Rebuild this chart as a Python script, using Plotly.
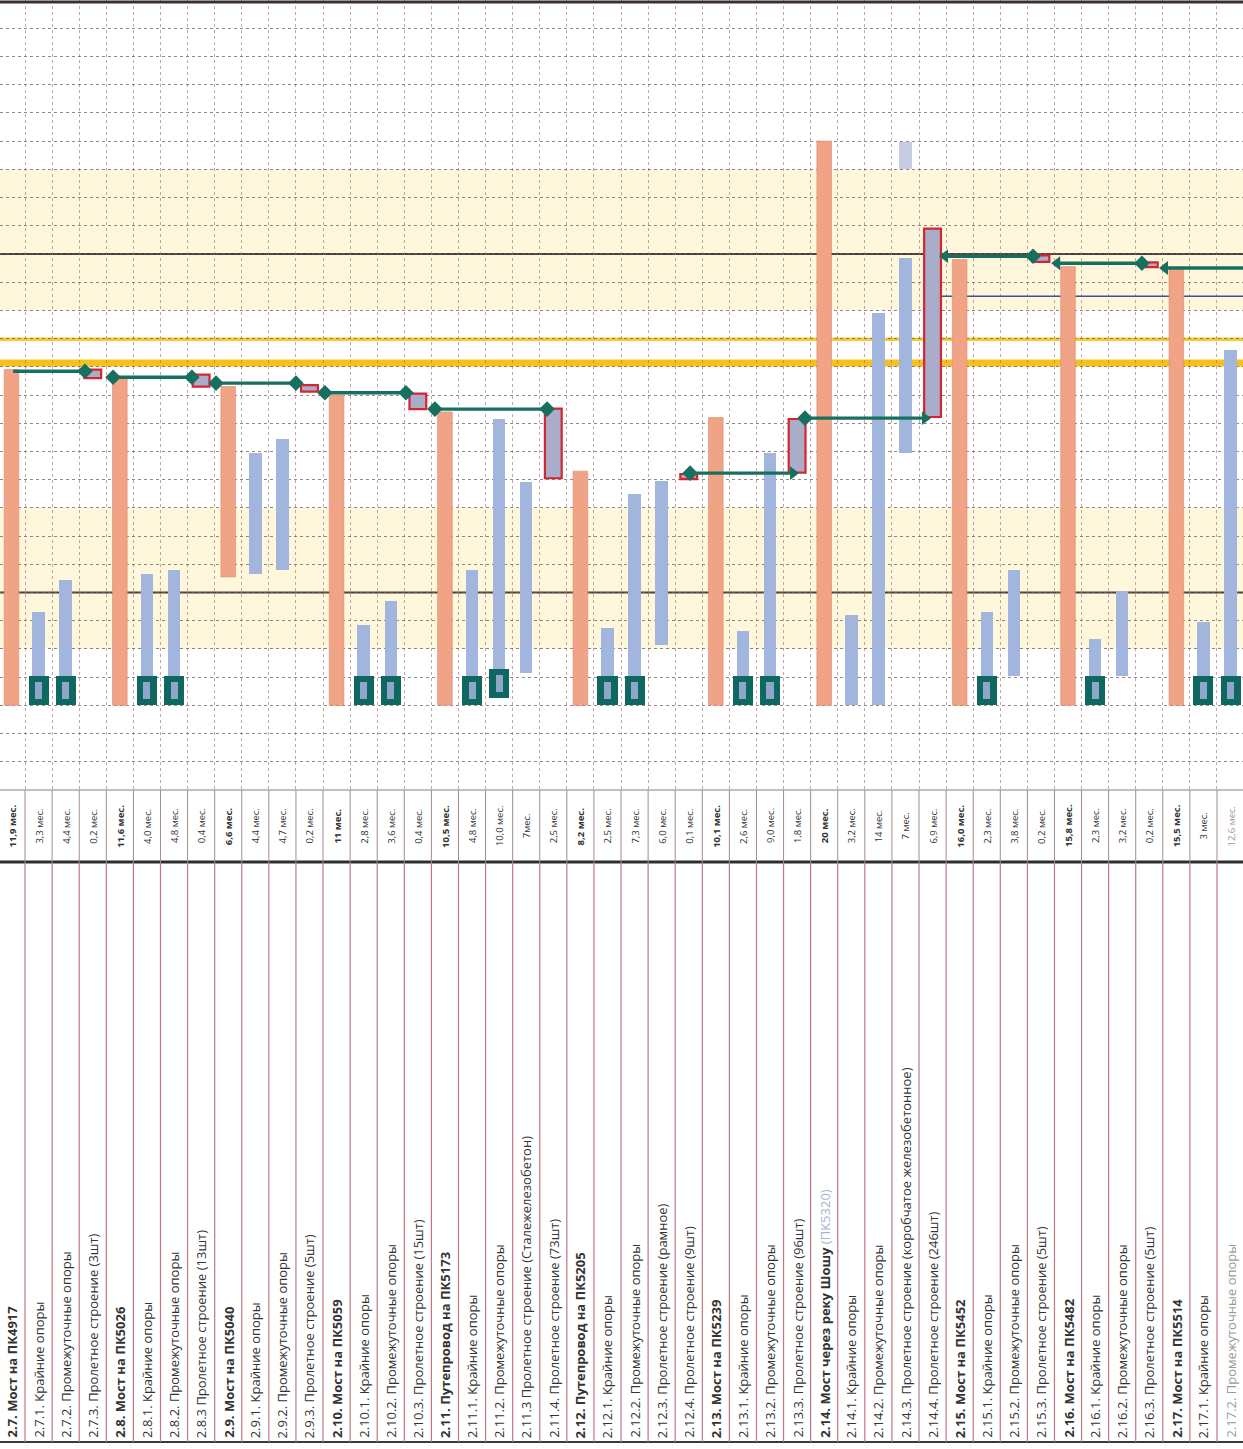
import plotly.graph_objects as go

W, H = 1243, 1449

# ---------------- data ----------------
task_labels = [
    "2.7. Мост на ПК4917",
    "2.7.1. Крайние опоры",
    "2.7.2. Промежуточные опоры",
    "2.7.3. Пролетное строение (3шт)",
    "2.8. Мост на ПК5026",
    "2.8.1. Крайние опоры",
    "2.8.2. Промежуточные опоры",
    "2.8.3 Пролетное строение (13шт)",
    "2.9. Мост на ПК5040",
    "2.9.1. Крайние опоры",
    "2.9.2. Промежуточные опоры",
    "2.9.3. Пролетное строение (5шт)",
    "2.10. Мост на ПК5059",
    "2.10.1. Крайние опоры",
    "2.10.2. Промежуточные опоры",
    "2.10.3. Пролетное строение (15шт)",
    "2.11. Путепровод на ПК5173",
    "2.11.1. Крайние опоры",
    "2.11.2. Промежуточные опоры",
    "2.11.3 Пролетное строение (Сталежелезобетон)",
    "2.11.4. Пролетное строение (73шт)",
    "2.12. Путепровод на ПК5205",
    "2.12.1. Крайние опоры",
    "2.12.2. Промежуточные опоры",
    "2.12.3. Пролетное строение (рамное)",
    "2.12.4. Пролетное строение (9шт)",
    "2.13. Мост на ПК5239",
    "2.13.1. Крайние опоры",
    "2.13.2. Промежуточные опоры",
    "2.13.3. Пролетное строение (96шт)",
    "2.14. Мост через реку Шошу",
    "2.14.1. Крайние опоры",
    "2.14.2. Промежуточные опоры",
    "2.14.3. Пролетное строение (коробчатое железобетонное)",
    "2.14.4. Пролетное строение (246шт)",
    "2.15. Мост на ПК5452",
    "2.15.1. Крайние опоры",
    "2.15.2. Промежуточные опоры",
    "2.15.3. Пролетное строение (5шт)",
    "2.16. Мост на ПК5482",
    "2.16.1. Крайние опоры",
    "2.16.2. Промежуточные опоры",
    "2.16.3. Пролетное строение (5шт)",
    "2.17. Мост на ПК5514",
    "2.17.1. Крайние опоры",
    "2.17.2. Промежуточные опоры",
]
label_notes = {30: "(ПК5320)"}

durations = [
    "11,9 мес.", "3,3 мес.", "4,4 мес.", "0,2 мес.", "11,6 мес.", "4,0 мес.",
    "4,8 мес.", "0,4 мес.", "6,6 мес.", "4,4 мес.", "4,7 мес.", "0,2 мес.",
    "11 мес.", "2,8 мес.", "3,6 мес.", "0,4 мес.", "10,5 мес.", "4,8 мес.",
    "10,0 мес.", "7мес.", "2,5 мес.", "8,2 мес.", "2,5 мес.", "7,3 мес.",
    "6,0 мес.", "0,1 мес.", "10,1 мес.", "2,6 мес.", "9,0 мес.", "1,8 мес.",
    "20 мес.", "3,2 мес.", "14 мес.", "7 мес.", "6,9 мес.", "16,0 мес.",
    "2,3 мес.", "3,8 мес.", "0,2 мес.", "15,8 мес.", "2,3 мес.", "3,2 мес.",
    "0,2 мес.", "15,5 мес.", "3 мес.", "12,6 мес.",
]

# summary (structure) bars: column index, start month, end month
summary_idx = [0, 4, 8, 12, 16, 21, 26, 30, 35, 39, 43]
summary_start = [0, 0, 4.55, 0, 0, 0, 0, 0, 0, 0, 0]
summary_end = [11.9, 11.6, 11.3, 11.0, 10.4, 8.3, 10.2, 20.0, 15.8, 15.55, 15.45]

# work bars (supports etc.)
work_idx = [1, 2, 5, 6, 9, 10, 13, 14, 17, 18, 19, 22, 23, 24, 27, 28,
            31, 32, 33, 33, 36, 37, 40, 41, 44, 45]
work_start = [0, 0, 0, 0, 4.65, 4.8, 0, 0, 0, 0.25, 1.15, 0, 0, 2.15, 0, 0,
              0, 0, 8.95, 19.0, 0, 1.05, 0, 1.05, 0, 0]
work_end = [3.3, 4.45, 4.65, 4.8, 8.95, 9.45, 2.85, 3.7, 4.8, 10.15, 7.9, 2.75,
            7.5, 7.95, 2.65, 8.95, 3.2, 13.9, 15.85, 19.95, 3.3, 4.8, 2.35,
            4.05, 2.95, 12.6]

# span-erection (critical) tasks
span_idx = [3, 7, 11, 15, 20, 25, 29, 34, 38, 42]
span_start = [11.6, 11.3, 11.12, 10.5, 8.05, 8.02, 8.25, 10.22, 15.72, 15.53]
span_end = [11.9, 11.72, 11.35, 11.05, 10.52, 8.2, 10.15, 16.9, 15.95, 15.7]

# start markers (dark squares)
start_mark_idx = [1, 2, 5, 6, 13, 14, 17, 18, 22, 23, 27, 28, 36, 40, 44, 45]
start_mark_base = [0, 0, 0, 0, 0, 0, 0, 0.25, 0, 0, 0, 0, 0, 0, 0, 0]

# links of span crew: from column, to column, month level
link_from = [0.06, 3.75, 7.55, 11.57, 15.63, 25.05, 29.29, 34.46, 38.6, 42.58]
link_to = [2.71, 6.66, 10.5, 14.56, 19.77, 28.85, 33.72, 37.71, 41.73, 45.7]
link_level = [11.84, 11.63, 11.42, 11.08, 10.5, 8.23, 10.18, 15.92, 15.67, 15.5]
link_start_mark = ["none", "diamond", "diamond", "diamond", "diamond", "diamond",
                   "diamond", "triangle-left", "triangle-left", "triangle-left"]
link_end_mark = ["diamond", "diamond", "diamond", "diamond", "diamond",
                 "triangle-right", "triangle-right", "diamond", "diamond", "none"]

# calendar
winter_start = [2.0, 14.0]
winter_end = [7.0, 19.0]
year_lines = [4.0, 16.0]
deadline_thick = 12.13
deadline_thin = 12.98
control_line = 14.5
control_line_from = 34.1

# ---------------- colours ----------------
ORANGE = "#F1A386"
BLUE = "#A2B5DD"
BLUE_LIGHT = "#C3CCE3"
TEAL = "#0E6861"
TEAL_IN = "#8EA7C9"
RED = "#D32630"
SPAN_FILL = "#A9ADC9"
GREEN = "#17705F"

CH_BOTTOM = 790
HD_BOTTOM = 862
LB_BOTTOM = 1442


def py(px):
    return 1 - px / H


fig = go.Figure()

# summary bars
fig.add_trace(go.Bar(
    x=summary_idx, base=summary_start,
    y=[e - s for s, e in zip(summary_start, summary_end)],
    width=0.54, marker=dict(color=ORANGE, line=dict(width=0.6, color="#D98B70")),
))
# work bars
work_colors = [BLUE_LIGHT if s > 18 else BLUE for s in work_start]
fig.add_trace(go.Bar(
    x=work_idx, base=work_start,
    y=[e - s for s, e in zip(work_start, work_end)],
    width=0.46, marker=dict(color=work_colors, line=dict(width=0)),
))
# span tasks
fig.add_trace(go.Bar(
    x=span_idx, base=span_start,
    y=[e - s for s, e in zip(span_start, span_end)],
    width=0.62, marker=dict(color=SPAN_FILL, line=dict(width=2.2, color=RED)),
))
# start markers (dark square with inner light bar)
fig.add_trace(go.Bar(
    x=start_mark_idx, base=start_mark_base, y=[1.05] * len(start_mark_idx),
    width=0.74, marker=dict(color=TEAL, line=dict(width=0)),
))
fig.add_trace(go.Bar(
    x=start_mark_idx, base=[b + 0.22 for b in start_mark_base],
    y=[0.62] * len(start_mark_idx),
    width=0.26, marker=dict(color=TEAL_IN, line=dict(width=0)),
))

# links
lx, ly = [], []
for a, b, lv in zip(link_from, link_to, link_level):
    lx += [a, b, None]
    ly += [lv, lv, None]
fig.add_trace(go.Scatter(x=lx, y=ly, mode="lines",
                         line=dict(color=GREEN, width=3.4)))
mx, my, ms = [], [], []
for a, b, lv, s0, s1 in zip(link_from, link_to, link_level,
                            link_start_mark, link_end_mark):
    if s0 != "none":
        mx.append(a); my.append(lv); ms.append(s0)
    if s1 != "none":
        mx.append(b); my.append(lv); ms.append(s1)
fig.add_trace(go.Scatter(x=mx, y=my, mode="markers",
                         marker=dict(symbol=ms, size=12, color=GREEN,
                                     line=dict(width=0))))

shapes = []
for s, e in zip(winter_start, winter_end):
    shapes.append(dict(type="rect", xref="paper", yref="y", x0=0, x1=1,
                       y0=s, y1=e, fillcolor="#FFF7DC", line=dict(width=0),
                       layer="below"))
for yl in year_lines:
    shapes.append(dict(type="line", xref="paper", yref="y", x0=0, x1=1,
                       y0=yl, y1=yl, line=dict(color="#4E3C3C", width=2),
                       layer="between"))
shapes.append(dict(type="line", xref="paper", yref="y", x0=0, x1=1,
                   y0=deadline_thick, y1=deadline_thick,
                   line=dict(color="#F6C11C", width=7), layer="between"))
shapes.append(dict(type="line", xref="paper", yref="y", x0=0, x1=1,
                   y0=deadline_thin, y1=deadline_thin,
                   line=dict(color="#F8CA2C", width=3.5), layer="between"))
shapes.append(dict(type="line", xref="x", yref="y", x0=control_line_from, x1=46,
                   y0=control_line, y1=control_line,
                   line=dict(color="#3F4E9E", width=1.6), layer="between"))
# top border
shapes.append(dict(type="line", xref="paper", yref="paper", x0=0, x1=1,
                   y0=py(2), y1=py(2), line=dict(color="#3A3030", width=3)))
# header / label table lines
shapes.append(dict(type="line", xref="paper", yref="paper", x0=0, x1=1,
                   y0=py(CH_BOTTOM), y1=py(CH_BOTTOM),
                   line=dict(color="#8A8080", width=1.2)))
shapes.append(dict(type="line", xref="paper", yref="paper", x0=0, x1=1,
                   y0=py(HD_BOTTOM), y1=py(HD_BOTTOM),
                   line=dict(color="#2E2E2E", width=3)))
shapes.append(dict(type="line", xref="paper", yref="paper", x0=0, x1=1,
                   y0=py(LB_BOTTOM), y1=py(LB_BOTTOM),
                   line=dict(color="#3A3A3A", width=2)))
for i in range(len(task_labels) + 1):
    xb = i - 0.5
    shapes.append(dict(type="line", xref="x", yref="paper", x0=xb, x1=xb,
                       y0=py(HD_BOTTOM), y1=py(CH_BOTTOM),
                       line=dict(color="#A08C90", width=1)))
    shapes.append(dict(type="line", xref="x", yref="paper", x0=xb, x1=xb,
                       y0=py(LB_BOTTOM), y1=py(HD_BOTTOM),
                       line=dict(color="#C27583", width=1.2)))

annotations = []
bold_set = set(summary_idx)
for i, (lab, dur) in enumerate(zip(task_labels, durations)):
    col = "#333333" if i < len(task_labels) - 1 else "#9A9A9A"
    t = f"<b>{lab}</b>" if i in bold_set else lab
    if i in label_notes:
        t += f" <span style='color:#A9B3D3'>{label_notes[i]}</span>"
    annotations.append(dict(x=i, y=py(LB_BOTTOM - 2), xref="x", yref="paper",
                            text=t, textangle=-90, showarrow=False,
                            xanchor="center", yanchor="bottom",
                            font=dict(family="Open Sans", size=13, color=col)))
    d = f"<b>{dur}</b>" if i in bold_set else dur
    annotations.append(dict(x=i, y=py(826), xref="x", yref="paper",
                            text=d, textangle=-90, showarrow=False,
                            xanchor="center", yanchor="middle",
                            font=dict(family="Open Sans", size=9.5, color=col)))

fig.update_layout(
    width=W, height=H,
    margin=dict(l=0, r=0, t=0, b=0),
    paper_bgcolor="white", plot_bgcolor="white",
    barmode="overlay", bargap=0, showlegend=False,
    shapes=shapes, annotations=annotations,
    xaxis=dict(range=[-0.4245, 45.46], showticklabels=False, ticks="",
               tickmode="array",
               tickvals=[i - 0.5 for i in range(len(task_labels) + 1)],
               showgrid=True, gridcolor="rgba(170,115,122,0.65)", griddash="dot",
               gridwidth=1, zeroline=False, showline=False, fixedrange=True),
    yaxis=dict(range=[-3.0, 25.0], domain=[py(CH_BOTTOM), 1],
               showticklabels=False, ticks="", tick0=0, dtick=1,
               showgrid=True, gridcolor="rgba(110,95,95,0.75)", griddash="dot",
               gridwidth=1, zeroline=False, showline=False, fixedrange=True),
)

fig.write_html("out.html",
               config={"displayModeBar": False, "staticPlot": True},
               post_script="document.body.style.margin='0px';"
                           "document.body.style.padding='0px';")
